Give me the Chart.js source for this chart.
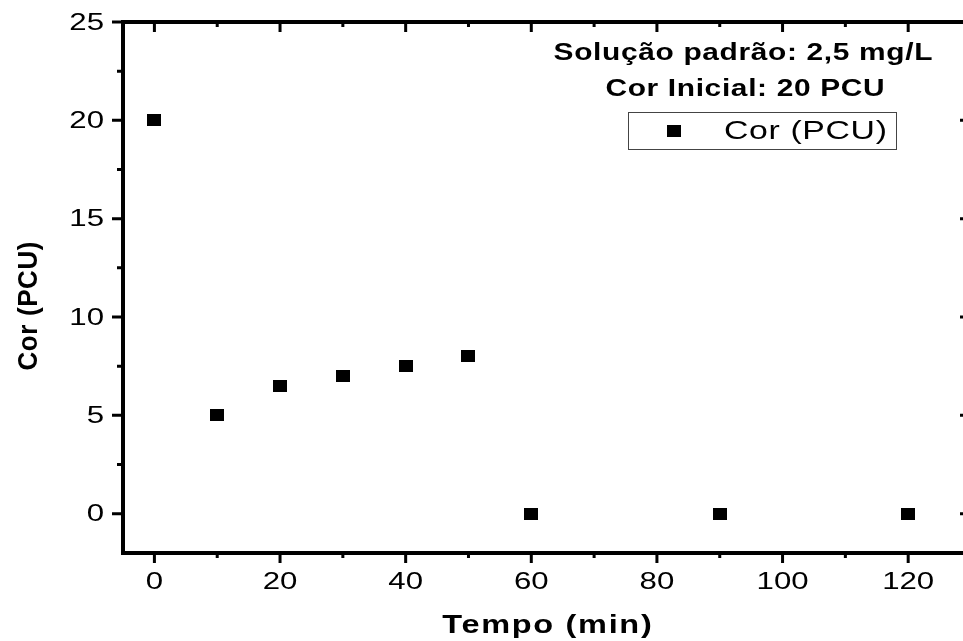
<!DOCTYPE html>
<html>
<head>
<meta charset="utf-8">
<script src="https://cdn.jsdelivr.net/npm/chart.js@4/dist/chart.umd.min.js"></script>
<style>
html,body{margin:0;padding:0;background:#fff;overflow:hidden;}
#wrap{width:963px;height:641px;overflow:hidden;position:relative;}
canvas{display:block;}
</style>
</head>
<body>
<div id="wrap"><canvas id="c" width="1000" height="641" style="width:1000px;height:641px"></canvas></div>
<script>
// ---- data ----
const tempo = [0, 10, 20, 30, 40, 50, 60, 90, 120];
const cor = [20, 5, 6.5, 7, 7.5, 8, 0, 0, 0];
const xMajorTicks = [0, 20, 40, 60, 80, 100, 120];
const xMinorTicks = [10, 30, 50, 70, 90, 110];
const yMajorTicks = [0, 5, 10, 15, 20, 25];
const yMinorTicks = [2.5, 7.5, 12.5, 17.5, 22.5];
const seriesLabel = 'Cor (PCU)';
const xTitle = 'Tempo (min)';
const yTitle = 'Cor (PCU)';
const noteLines = ['Solução padrão: 2,5 mg/L', 'Cor Inicial: 20 PCU'];

const FONT = '"Liberation Sans", Arial, sans-serif';
const SX = 1.3;

// marker (slightly wider than tall, as in the reference)
const marker = document.createElement('canvas');
marker.width = 14; marker.height = 12;
(function(){const m = marker.getContext('2d'); m.fillStyle = '#000'; m.fillRect(0,0,14,12);})();

function drawText(ctx, text, x, y, o) {
  const ls = o.ls || 0;
  ctx.save();
  ctx.translate(x, y);
  if (o.rot) ctx.rotate(o.rot);
  ctx.scale(o.sx || 1, o.sy || 1);
  ctx.font = o.font;
  try { ctx.letterSpacing = ls + 'px'; } catch (e) {}
  ctx.fillStyle = '#000';
  ctx.textAlign = o.align || 'left';
  ctx.textBaseline = o.baseline || 'alphabetic';
  const off = o.align === 'center' ? ls / 2 : (o.align === 'right' ? ls : 0);
  ctx.fillText(text, off, 0);
  ctx.restore();
}

const axesPlugin = {
  id: 'originAxes',
  afterDraw(chart) {
    const ctx = chart.ctx;
    const xs = chart.scales.x, ys = chart.scales.y;
    const a = chart.chartArea;
    ctx.save();
    ctx.strokeStyle = '#000';
    ctx.lineCap = 'butt';
    // frame
    ctx.lineWidth = 4;
    ctx.beginPath();
    ctx.moveTo(a.left, a.top - 2); ctx.lineTo(a.left, a.bottom + 2);
    ctx.moveTo(a.left - 2, a.bottom); ctx.lineTo(a.right + 2, a.bottom);
    ctx.moveTo(a.left - 2, a.top); ctx.lineTo(a.right + 2, a.top);
    ctx.moveTo(a.right, a.top - 2); ctx.lineTo(a.right, a.bottom + 2);
    ctx.stroke();
    // ticks
    ctx.lineWidth = 3;
    ctx.beginPath();
    xMajorTicks.forEach(v => {
      const px = xs.getPixelForValue(v);
      ctx.moveTo(px, a.bottom); ctx.lineTo(px, a.bottom + 10);
      ctx.moveTo(px, a.top); ctx.lineTo(px, a.top + 10);
    });
    xMinorTicks.forEach(v => {
      const px = xs.getPixelForValue(v);
      ctx.moveTo(px, a.bottom); ctx.lineTo(px, a.bottom + 5);
      ctx.moveTo(px, a.top); ctx.lineTo(px, a.top + 5);
    });
    yMajorTicks.forEach(v => {
      const py = ys.getPixelForValue(v);
      ctx.moveTo(a.left - 11, py); ctx.lineTo(a.left, py);
      ctx.moveTo(a.right - 11, py); ctx.lineTo(a.right, py);
    });
    yMinorTicks.forEach(v => {
      const py = ys.getPixelForValue(v);
      ctx.moveTo(a.left - 6, py); ctx.lineTo(a.left, py);
      ctx.moveTo(a.right - 6, py); ctx.lineTo(a.right, py);
    });
    ctx.stroke();
    ctx.restore();

    // tick labels
    xMajorTicks.forEach(v => {
      drawText(ctx, String(v), xs.getPixelForValue(v), 582,
        {font: '24px ' + FONT, sx: SX, ls: 0, align: 'center', baseline: 'middle'});
    });
    yMajorTicks.forEach(v => {
      drawText(ctx, String(v), 104, ys.getPixelForValue(v) + 1,
        {font: '24px ' + FONT, sx: SX, ls: 0, align: 'right', baseline: 'middle'});
    });
    // axis titles
    drawText(ctx, xTitle, 547, 633, {font: 'bold 25px ' + FONT, sx: SX, ls: 1.3, align: 'center'});
    drawText(ctx, yTitle, 37, 306, {font: 'bold 26px ' + FONT, sy: 1.05, ls: 0.6, align: 'center', rot: -Math.PI / 2});
    // notes
    drawText(ctx, noteLines[0], 743, 60, {font: 'bold 23px ' + FONT, sx: SX, ls: 0.5, align: 'center'});
    drawText(ctx, noteLines[1], 745, 96, {font: 'bold 23px ' + FONT, sx: SX, ls: 0.5, align: 'center'});
    // legend
    ctx.save();
    ctx.strokeStyle = '#444';
    ctx.lineWidth = 1;
    ctx.strokeRect(628.5, 112.5, 268, 37);
    ctx.drawImage(marker, 667, 125);
    ctx.restore();
    drawText(ctx, seriesLabel, 724, 132, {font: '26px ' + FONT, sx: SX, ls: 0.5, align: 'left', baseline: 'middle'});
  }
};

new Chart(document.getElementById('c'), {
  type: 'scatter',
  data: {
    datasets: [{
      label: seriesLabel,
      data: tempo.map((t, i) => ({x: t, y: cor[i]})),
      pointStyle: marker,
      pointRadius: 7,
      pointHoverRadius: 7,
      backgroundColor: '#000',
      borderColor: '#000',
      showLine: false,
      clip: false
    }]
  },
  options: {
    responsive: false,
    devicePixelRatio: 1,
    animation: false,
    events: [],
    layout: {padding: {left: 123, top: 22, right: 29, bottom: 88}},
    plugins: {legend: {display: false}, tooltip: {enabled: false}},
    scales: {
      x: {type: 'linear', min: -5, max: 130, display: false},
      y: {type: 'linear', min: -2, max: 25, display: false}
    }
  },
  plugins: [axesPlugin]
});
</script>
</body>
</html>
